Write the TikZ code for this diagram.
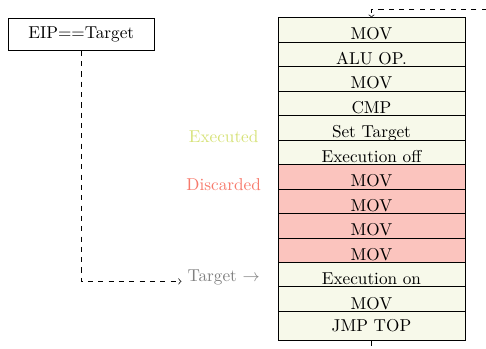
\documentclass[tikz,border=0pt]{standalone}
\usepackage{amsmath}
\usepackage{amssymb}
\usepackage{tikz}
\definecolor{execfill}{RGB}{247,249,234}
\definecolor{discfill}{RGB}{251,196,190}
\definecolor{exectext}{RGB}{214,226,120}
\definecolor{disctext}{RGB}{247,122,108}
\definecolor{tgttext}{RGB}{128,128,128}
\tikzset{cell/.style={draw, fill=execfill, minimum width=3.82cm, minimum height=0.5cm,
    inner ysep=0pt, text height=11.6pt, text depth=0pt, outer sep=0pt}}
\tikzset{disc/.style={cell, fill=discfill}}

\begin{document}
\begin{tikzpicture}[auto]
        \useasboundingbox (0, 0) rectangle (9.93, 7.13);
        \node[draw, minimum width=2.97cm, minimum height=0.66cm] (eip) at (1.66, 6.43) {EIP==Target};
        \node[cell] (mov1) at (7.59, 6.52) {MOV};       \node[cell] (alu) at (7.59, 6.02) {ALU OP.};
        \node[cell] (mov2) at (7.59, 5.52) {MOV};       \node[cell] (cmp) at (7.59, 5.02) {CMP};
        \node[cell] (set) at (7.59, 4.52) {Set Target}; \node[cell] (off) at (7.59, 4.02) {Execution off};
        \node[disc] (d1) at (7.59, 3.52) {MOV};         \node[disc] (d2) at (7.59, 3.02) {MOV};
        \node[disc] (d3) at (7.59, 2.52) {MOV};         \node[disc] (d4) at (7.59, 2.02) {MOV};
        \node[cell] (on) at (7.59, 1.52) {Execution on}; \node[cell] (mov3) at (7.59, 1.02) {MOV};
        \node[cell, minimum height=0.6cm, text height=, text depth=] (jmp) at (7.59, 0.47) {JMP TOP};
        \node[anchor=base, text=exectext] (exe) at (4.57, 4.21) {Executed};
        \node[anchor=base, text=disctext] (dis) at (4.57, 3.23) {Discarded};
        \node[anchor=base, text=tgttext] (tgt) at (4.57, 1.38) {Target $\rightarrow$};
        \coordinate (loop) at (10.3, 6.93);
        \draw[->, dashed] (eip.south) |- (tgt.base west);
        \draw[->, dashed] (jmp.south) -- (jmp.south |- 0, -0.4) -| (loop) -| (mov1.north);
    \end{tikzpicture}
\end{document}
